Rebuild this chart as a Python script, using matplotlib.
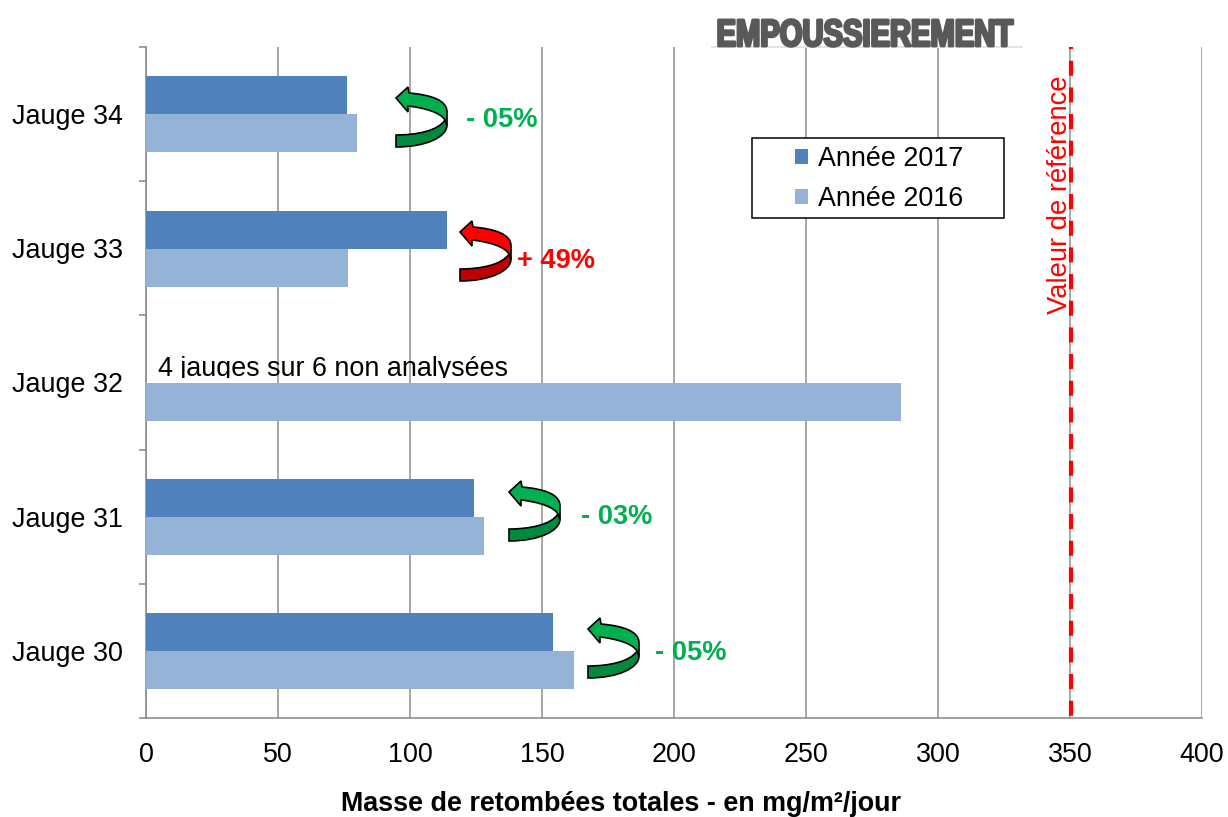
import matplotlib
matplotlib.use("Agg")
import matplotlib.pyplot as plt
import matplotlib.patheffects as pe
from matplotlib.patches import PathPatch, Rectangle
from matplotlib.path import Path as MPath
from matplotlib.transforms import Affine2D, offset_copy

plt.rcParams["font.family"] = ["Liberation Sans", "DejaVu Sans"]

jauges = ["Jauge 30", "Jauge 31", "Jauge 32", "Jauge 33", "Jauge 34"]
annee_2017 = [154, 124.3, 0, 114, 76]
annee_2016 = [162, 128, 286, 76.5, 80]
x_ticks = [0, 50, 100, 150, 200, 250, 300, 350, 400]
reference = 350

W, H = 1228, 817
C_2017 = "#4F81BD"
C_2016 = "#95B3D7"
GRID = "#A0A0A0"
AXIS = "#868686"
GREEN = "#00B050"
RED = "#FF0000"


class VStretch(pe.AbstractPathEffect):
    # etire le texte du titre en hauteur, comme le WordArt de l'original
    def __init__(self, yc, s, lw, color):
        super().__init__()
        self.yc, self.s, self.lw, self.color = yc, s, lw, color

    def draw_path(self, renderer, gc, tpath, affine, rgbFace=None):
        a = affine + Affine2D().translate(0, -self.yc).scale(1, self.s).translate(0, self.yc)
        gc0 = renderer.new_gc()
        gc0.copy_properties(gc)
        gc0.set_linewidth(self.lw)
        gc0.set_foreground(self.color)
        renderer.draw_path(gc0, tpath, a, rgbFace)
        gc0.restore()


fig = plt.figure(figsize=(W / 100, H / 100), dpi=100)
ax = fig.add_axes([146 / W, 1 - 718 / H, (1202 - 146) / W, (718 - 47) / H])

pos = [p - 0.002 for p in range(len(jauges))]
bar_h = 0.283
ax.barh([p + bar_h / 2 for p in pos], annee_2017, height=bar_h, color=C_2017, zorder=3, label="Année 2017")
ax.barh([p - bar_h / 2 for p in pos], annee_2016, height=bar_h, color=C_2016, zorder=3, label="Année 2016")

ax.set_xlim(0, 400)
ax.set_ylim(-0.5, 4.5)
ax.set_xticks(x_ticks)
ax.grid(axis="x", color=GRID, lw=1.3, zorder=1)
ax.set_yticks([p - 0.5 for p in range(len(jauges))] + [4.5])
ax.set_yticklabels([])
ax.tick_params(axis="y", length=5, width=1.1, color=AXIS, direction="out")
ax.tick_params(axis="x", length=0, labelsize=19.4, pad=17)
for s in ["top", "right"]:
    ax.spines[s].set_visible(False)
for s in ["left", "bottom"]:
    ax.spines[s].set_color(AXIS)
    ax.spines[s].set_linewidth(1.1)

for p, lab in zip(range(len(jauges)), jauges):
    ax.annotate(lab, xy=(0, p), xycoords=("axes fraction", "data"), xytext=(-134, -3),
                textcoords="offset pixels", ha="left", va="center", fontsize=19.4, color="black")

fig.text(621 / W, 1 - 804 / H, "Masse de retombées totales - en mg/m²/jour", ha="center", va="center",
         fontsize=19.4, fontweight="bold", color="black")

line_tr = offset_copy(ax.transData, fig=fig, x=1.2, y=0, units="dots")
ax.plot([reference, reference], [4.5, -0.5], color=RED, lw=3, ls=(3.1, (3.6, 2.8)), zorder=4,
        transform=line_tr, clip_on=False)
fig.text(1060 / W, 1 - 194.5 / H, "Valeur de référence", rotation=90, ha="center", va="center",
         fontsize=19.7, color=RED)

# le bas du texte est coupe dans l'original
note = fig.text(158 / W, 1 - 376 / H, "4 jauges sur 6 non analysées", ha="left", va="baseline",
                fontsize=19.4, color="black")
note.set_clip_path(Rectangle((150 / W, 1 - 378.5 / H), 400 / W, 40 / H, transform=fig.transFigure))
note.set_clip_on(True)

# titre
fig.text(865 / W, 1 - 46 / H, "EMPOUSSIEREMENT", ha="center", va="baseline", fontsize=21, fontweight="bold",
         color="#595959", path_effects=[VStretch(H - 46, 1.3, 2, "#595959")])
fig.add_artist(Rectangle((711 / W, 1 - 48 / H), 312 / W, 2 / H, transform=fig.transFigure, fc="#E4E4E4", ec="none"))

# legende : cadre a part, contenu centre dedans
fig.add_artist(Rectangle((752 / W, 1 - 218 / H), 252 / W, 80 / H, transform=fig.transFigure, fc="white", ec="black",
                         lw=1.1, zorder=5))
leg = fig.legend(loc="center", bbox_to_anchor=(879 / W, 1 - 179 / H), fontsize=19.4, frameon=False,
                 handlelength=0.48, handleheight=0.48, handletextpad=0.38, labelspacing=0.52)
leg.set_zorder(6)


def arrow(x0, y0, light, dark):
    # fleche courbe, coordonnees locales en pixels depuis le coin haut gauche
    t = Affine2D().translate(x0, y0).scale(1 / W, 1 / H).scale(1, -1).translate(0, 1) + fig.transFigure
    top = [(0, 11), (12, 0), (13, 6), (35, 8), (51, 13), (51, 25), (51, 38), (49, 33),
           (45, 26), (30, 21), (12, 19), (12, 25), (0, 11)]
    top_codes = [MPath.MOVETO, MPath.LINETO, MPath.LINETO, MPath.CURVE4, MPath.CURVE4, MPath.CURVE4,
                 MPath.LINETO, MPath.LINETO, MPath.CURVE4, MPath.CURVE4, MPath.CURVE4, MPath.LINETO, MPath.CLOSEPOLY]
    low = [(0, 48), (20, 48), (42, 44), (49, 33), (51, 38), (51, 50), (30, 60), (0, 60), (0, 48)]
    low_codes = [MPath.MOVETO, MPath.CURVE4, MPath.CURVE4, MPath.CURVE4, MPath.LINETO,
                 MPath.CURVE4, MPath.CURVE4, MPath.CURVE4, MPath.CLOSEPOLY]
    fig.add_artist(PathPatch(MPath(low, low_codes), transform=t, fc=dark, ec="black", lw=1.2))
    fig.add_artist(PathPatch(MPath(top, top_codes), transform=t, fc=light, ec="black", lw=1.2))


arrow(396, 87, GREEN, "#008A3E")
arrow(460, 221, RED, "#C00000")
arrow(509, 481, GREEN, "#008A3E")
arrow(588, 618, GREEN, "#008A3E")

for x, y, s, c in [(466, 120, "- 05%", GREEN), (517, 261, "+ 49%", RED), (581, 517, "- 03%", GREEN), (655, 653, "- 05%", GREEN)]:
    fig.text(x / W, 1 - y / H, s, ha="left", va="center", fontsize=19.6, fontweight="bold", color=c)

fig.savefig("out.png", dpi=100)
